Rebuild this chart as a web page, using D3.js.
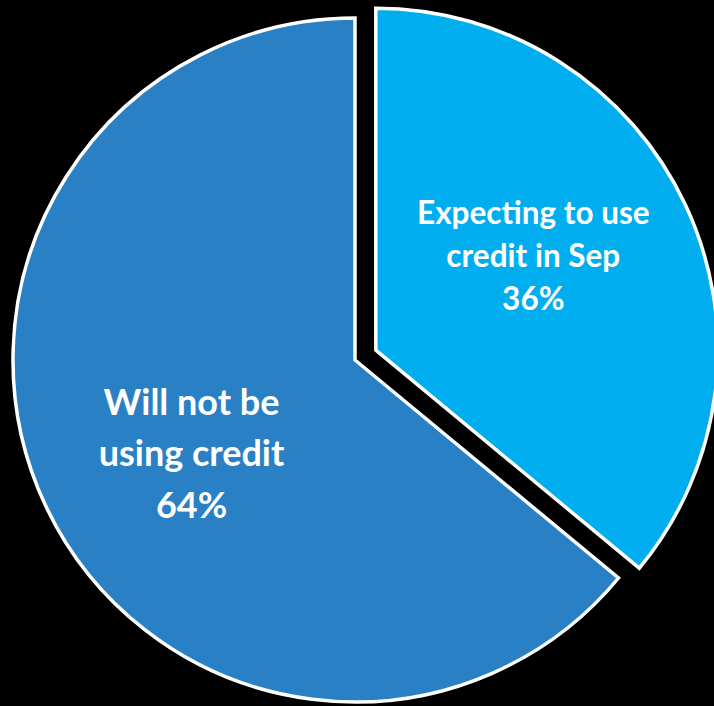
<!DOCTYPE html>
<html>
<head>
<meta charset="utf-8">
<script src="https://cdn.jsdelivr.net/npm/d3@7"></script>
<style>
  html, body { margin: 0; padding: 0; background: #000; }
  svg { display: block; }
</style>
</head>
<body>
<svg id="chart" width="714" height="706"></svg>
<script>
// Share of respondents by credit plans
const categories = ["Expecting to use credit in Sep", "Will not be using credit"];
const labelLines = [["Expecting to use", "credit in Sep"], ["Will not be", "using credit"]];
const values = [36, 64];
const colors = ["#00AEEF", "#2980C4"];
const exploded = [true, false];

const width = 714, height = 706;
const cx = 355, cy = 360, radius = 342;
const explodeDist = 23;
const labelRadius = 186;
const labelShift = -0.09;            // radians, nudges labels counter-clockwise
const labelDx = -3;
const lineGap = [43, 51.5];
const fontSize = [31.5, 36];
const baselineDrop = [11, 12];

const svg = d3.select("#chart");
svg.append("rect").attr("width", width).attr("height", height).attr("fill", "#000");

const pie = d3.pie().sort(null).value(d => d)(values);
const arc = d3.arc().innerRadius(0).outerRadius(radius);

const g = svg.append("g").attr("transform", `translate(${cx},${cy})`);

const slices = g.selectAll("g.slice")
  .data(pie)
  .join("g")
  .attr("class", "slice")
  .attr("transform", (d, i) => {
    if (!exploded[i]) return null;
    const mid = (d.startAngle + d.endAngle) / 2;
    return `translate(${Math.sin(mid) * explodeDist},${-Math.cos(mid) * explodeDist})`;
  });

slices.append("path")
  .attr("d", arc)
  .attr("fill", (d, i) => colors[i])
  .attr("stroke", "#fff")
  .attr("stroke-width", 3.5)
  .attr("stroke-linejoin", "miter");

slices.each(function(d, i) {
  const mid = (d.startAngle + d.endAngle) / 2 + labelShift;
  const x = Math.sin(mid) * labelRadius + labelDx;
  const y = -Math.cos(mid) * labelRadius;
  const lines = [...labelLines[i], d3.format(".0f")(values[i]) + "%"];
  const gap = lineGap[i];
  const t = d3.select(this).append("text")
    .attr("text-anchor", "middle")
    .attr("fill", "#fff")
    .attr("font-family", "Lato, 'Open Sans', sans-serif")
    .attr("font-weight", 700)
    .attr("font-size", fontSize[i]);
  lines.forEach((s, k) => {
    t.append("tspan")
      .attr("x", x)
      .attr("y", y + (k - (lines.length - 1) / 2) * gap + baselineDrop[i])
      .text(s);
  });
});
</script>
</body>
</html>
